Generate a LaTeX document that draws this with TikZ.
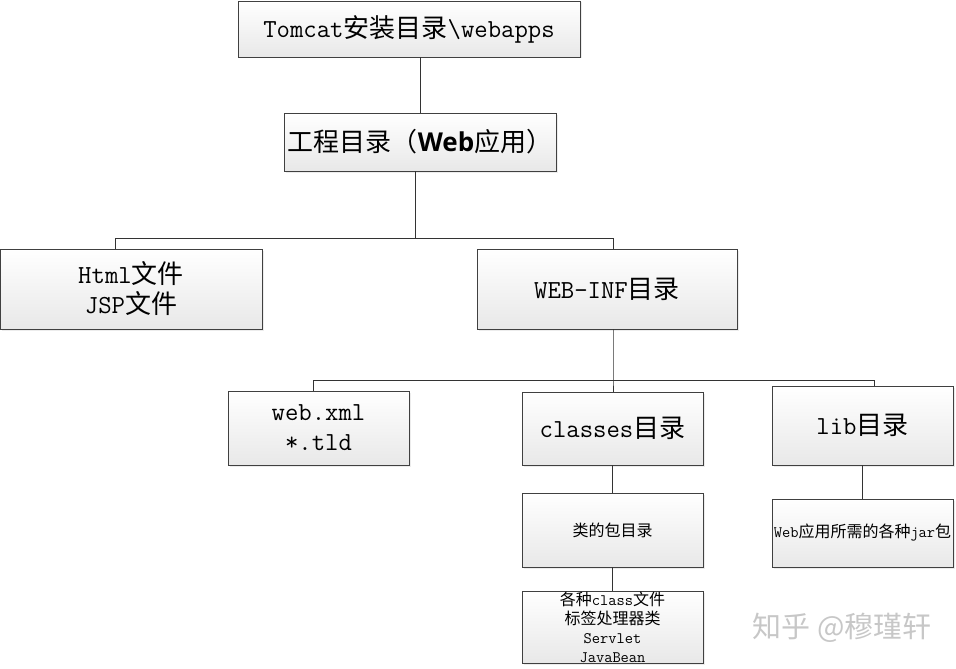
\documentclass[tikz,border=0pt]{standalone}
\usepackage{fontspec}
\usetikzlibrary{shadows}
\newfontfamily\cjk{Noto Sans CJK SC}
\newfontfamily\hei{Open Sans}
\newcommand{\zh}[1]{{\cjk #1}}

\begin{document}
\begin{tikzpicture} [x=1pt,y=-1pt,
  box/.style={draw=black!75, line width=0.8pt, top color=white, bottom color=black!9,
    drop shadow={opacity=0.15, shadow xshift=1.5pt, shadow yshift=-1.5pt},
    align=center, inner sep=0pt},
  big/.style={font=\fontsize{26}{30}\selectfont\ttfamily},
  small/.style={font=\fontsize{16}{19}\selectfont\ttfamily},
  link/.style={draw=black!80, line width=0.8pt}]
\useasboundingbox (0,0) rectangle (956,669);
% top levels
\node [box,big,minimum width=342pt,minimum height=56pt] (tomcat) at (409,29) {Tomcat\zh{安装目录}\textbackslash webapps};
\node [box,minimum width=272pt,minimum height=58pt,font=\fontsize{26}{30}\selectfont\cjk] (proj) at (420,142) {工程目录（{\hei\bfseries Web}应用）};
\node [box,big,minimum width=262pt,minimum height=80pt] (html) at (131,289) {Html\zh{文件}\\JSP\zh{文件}};
\node [box,big,minimum width=260pt,minimum height=80pt] (webinf) at (607,289) {WEB-INF\zh{目录}};
% WEB-INF contents
\node [box,big,minimum width=181pt,minimum height=74pt] (webxml) at (318.5,428) {web.xml\\*.tld};
\node [box,big,minimum width=181pt,minimum height=73pt] (classes) at (612.5,428.5) {classes\zh{目录}};
\node [box,big,minimum width=181pt,minimum height=79pt] (lib) at (862.5,425.5) {lib\zh{目录}};
\node [box,small,minimum width=181pt,minimum height=74pt] (pkg) at (612.5,530) {\zh{类的包目录}};
\node [box,small,minimum width=181pt,minimum height=68pt] (jars) at (862.5,533) {Web\zh{应用所需的各种}jar\zh{包}};
\node [box,small,minimum width=181pt,minimum height=72pt] (cls) at (612.5,627) {\zh{各种}class\zh{文件}\\\zh{标签处理器类}\\Servlet\\JavaBean};
\node [text=black!22,font=\fontsize{29}{32}\selectfont\cjk] (mark) at (842,628) {知乎 @穆瑾轩};
% joints
\coordinate (j1) at (415,238);
\coordinate (hl) at (115,238);
\coordinate (hr) at (613,238);
\coordinate (j2) at (613,380);
\coordinate (wl) at (313,380);
\coordinate (wr) at (874,380);
\draw [link] (tomcat.south -| proj.north) -- (proj.north);
\draw [link] (proj.south -| j1) -- (j1);
\draw [link] (html.north -| hl) -- (hl) -- (hr) -- (webinf.north -| hr);
\draw [link] (webinf.south -| j2) -- (j2) -- (classes.north -| j2);
\draw [link] (webxml.north -| wl) -- (wl) -- (wr) -- (lib.north -| wr);
\draw [link] (classes.south) -- (pkg.north);
\draw [link] (pkg.south) -- (cls.north);
\draw [link] (lib.south) -- (jars.north);
\end{tikzpicture}
\end{document}
